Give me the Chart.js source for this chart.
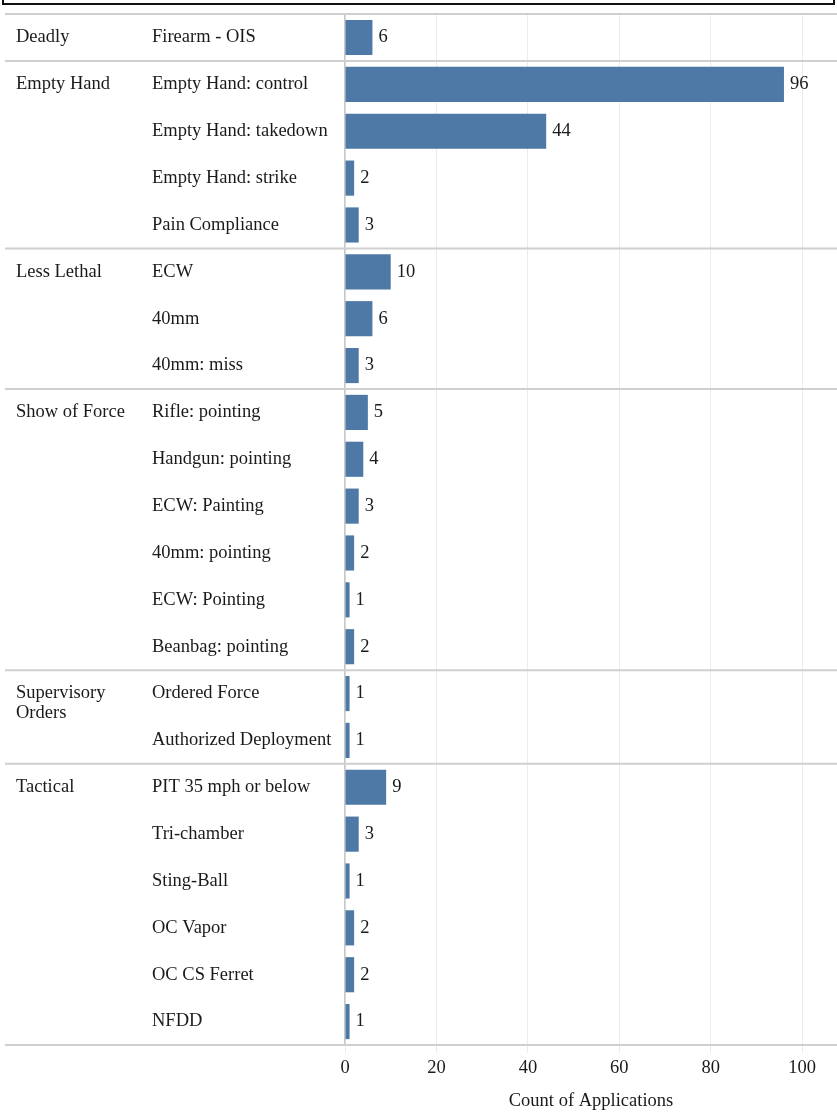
<!DOCTYPE html>
<html>
<head>
<meta charset="utf-8">
<script src="https://cdn.jsdelivr.net/npm/chart.js@4.4.1/dist/chart.umd.min.js"></script>
<style>
  body { margin: 0; background: #fff; }
  #wrap { position: relative; width: 837px; height: 1112px; overflow: hidden; }
  #frame { position: absolute; left: 2px; top: -10px; width: 829px; height: 11px; border: 2px solid #111; }
  canvas { position: absolute; left: 0; top: 0; }
</style>
</head>
<body>
<div id="wrap">
  <canvas id="chart" width="837" height="1112"></canvas>
  <div id="frame"></div>
</div>
<script>
const groups = ['Deadly', 'Empty Hand', 'Less Lethal', 'Show of Force', 'Supervisory Orders', 'Tactical'];
const groupSizes = [1, 4, 3, 6, 2, 6];
const categories = [
  'Firearm - OIS',
  'Empty Hand: control', 'Empty Hand: takedown', 'Empty Hand: strike', 'Pain Compliance',
  'ECW', '40mm', '40mm: miss',
  'Rifle: pointing', 'Handgun: pointing', 'ECW: Painting', '40mm: pointing', 'ECW: Pointing', 'Beanbag: pointing',
  'Ordered Force', 'Authorized Deployment',
  'PIT 35 mph or below', 'Tri-chamber', 'Sting-Ball', 'OC Vapor', 'OC CS Ferret', 'NFDD'
];
const counts = [6, 96, 44, 2, 3, 10, 6, 3, 5, 4, 3, 2, 1, 2, 1, 1, 9, 3, 1, 2, 2, 1];
const xTicks = [0, 20, 40, 60, 80, 100];

const FONT = '"Liberation Serif", "Times New Roman", serif';
const SIZE = 18.5;
const TEXT = '#1a1a1a';

// Group names, group separators and value labels
const tablePlugin = {
  id: 'tablePlugin',
  afterDraw(chart) {
    const { ctx, chartArea, scales } = chart;
    const y = scales.y;
    const x = scales.x;
    const step = y.getPixelForValue(1) - y.getPixelForValue(0);

    ctx.save();
    // separators
    ctx.strokeStyle = '#cfcfcf';
    ctx.lineWidth = 2;
    const lines = [chartArea.top];
    let idx = 0;
    groupSizes.forEach((n) => {
      idx += n;
      lines.push(y.getPixelForValue(idx - 1) + step / 2);
    });
    lines.forEach((ly) => {
      ctx.beginPath();
      ctx.moveTo(5, ly);
      ctx.lineTo(chart.width, ly);
      ctx.stroke();
    });

    // group names
    ctx.font = `${SIZE}px ${FONT}`;
    ctx.fillStyle = TEXT;
    ctx.textAlign = 'left';
    ctx.textBaseline = 'middle';
    idx = 0;
    groups.forEach((g, i) => {
      const gy = y.getPixelForValue(idx);
      if (g === 'Supervisory Orders') {
        ctx.fillText('Supervisory', 16, gy);
        ctx.fillText('Orders', 16, gy + 20);
      } else {
        ctx.fillText(g, 16, gy);
      }
      idx += groupSizes[i];
    });

    // value labels
    counts.forEach((v, i) => {
      ctx.fillText(String(v), x.getPixelForValue(v) + 6, y.getPixelForValue(i));
    });
    ctx.restore();
  }
};

new Chart(document.getElementById('chart'), {
  type: 'bar',
  data: {
    labels: categories,
    datasets: [{
      data: counts,
      backgroundColor: '#4e79a7',
      barPercentage: 0.75,
      categoryPercentage: 1
    }]
  },
  options: {
    indexAxis: 'y',
    responsive: false,
    animation: false,
    layout: { padding: { top: 8, left: 152, right: 0, bottom: 0 } },
    plugins: { legend: { display: false }, tooltip: { enabled: false } },
    scales: {
      y: {
        afterFit(scale) { scale.width = 193; },
        grid: { display: false },
        border: { display: true, color: '#c8c8c8', width: 1.5 },
        ticks: {
          crossAlign: 'far',
          color: TEXT,
          font: { family: FONT, size: SIZE }
        }
      },
      x: {
        min: 0,
        max: 107.6,
        afterFit(scale) { scale.height = 67; },
        afterBuildTicks(scale) { scale.ticks = xTicks.map(v => ({ value: v })); },
        grid: { color: '#ebebeb', lineWidth: 1, tickLength: 8 },
        border: { display: false },
        ticks: {
          padding: 4,
          color: TEXT,
          font: { family: FONT, size: SIZE }
        },
        title: {
          display: true,
          text: 'Count of Applications',
          color: TEXT,
          font: { family: FONT, size: SIZE },
          padding: { top: 0, bottom: 0 }
        }
      }
    }
  },
  plugins: [tablePlugin]
});
</script>
</body>
</html>
